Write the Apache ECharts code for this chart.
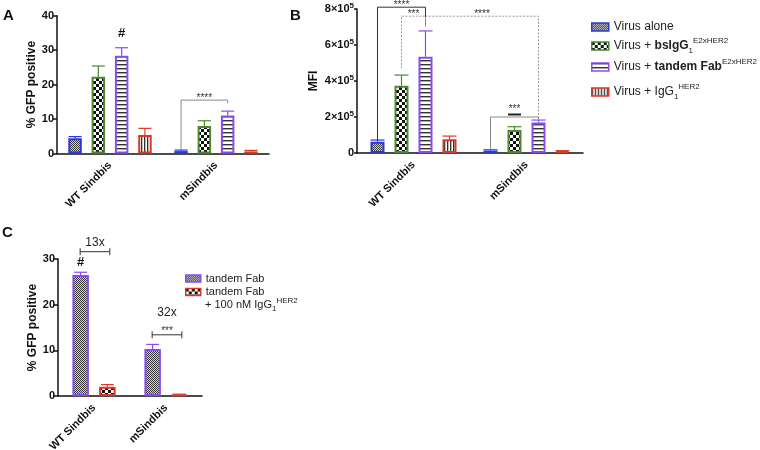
<!DOCTYPE html>
<html>
<head>
<meta charset="utf-8">
<script src="https://cdn.jsdelivr.net/npm/echarts@6/dist/echarts.min.js"></script>
<style>
html, body { margin: 0; padding: 0; background: #fff; }
#chart { width: 760px; height: 450px; }
</style>
</head>
<body>
<div id="chart"></div>
<script>
// categories
var categories = ['WT Sindbis', 'mSindbis'];

// A: % GFP positive (mean, sd)
var gfpAlone = [4.4, 0.7];
var gfpAloneSd = [0.5, 0.3];
var gfpBsIgG = [22.3, 8.0];
var gfpBsIgGSd = [3.1, 1.5];
var gfpTandem = [28.4, 11.0];
var gfpTandemSd = [2.3, 1.3];
var gfpIgG = [5.4, 0.6];
var gfpIgGSd = [1.9, 0.3];

// B: MFI (mean, sd)
var mfiAlone = [63000, 13000];
var mfiAloneSd = [9000, 5000];
var mfiBsIgG = [374000, 128000];
var mfiBsIgGSd = [59000, 18000];
var mfiTandem = [535000, 170000];
var mfiTandemSd = [143000, 13000];
var mfiIgG = [76000, 10000];
var mfiIgGSd = [18000, 3000];

// C: % GFP positive, competition
var cTandem = [26.5, 10.3];
var cTandemSd = [0.6, 1.0];
var cTandemIgG = [2.0, 0.3];
var cTandemIgGSd = [0.5, 0.1];

// axis ranges
var yMaxA = 40, yStepA = 10;
var yMaxB = 800000, yStepB = 200000;
var yMaxC = 30, yStepC = 10;

// brackets: [cat1, bar1, foot1, cat2, bar2, foot2, top]
var bracketsA = [[1, 0, 1.2, 1, 2, 14.6, 15.5]];
var bracketsALabel = ['****'];
var bracketsB = [
	[0, 0, 72000, 0, 2, 700000, 810000],
	[0, 1, 470000, 0, 2, 700000, 760000],
	[0, 2, 700000, 1, 2, 194000, 760000],
	[1, 0, 17000, 1, 2, 185000, 200000]
];
var bracketsBLabel = ['****', '***', '****', '***'];
var bracketsBDashed = [0, 1, 1, 0];

// C fold-change bars: [cat, y], label y
var foldC = [[0, 31.6], [1, 13.4]];
var foldCText = ['13x', '32x'];
var foldCTextY = [33.6, 18.2];
var foldCStars = ['', '***'];

// '#' marks: [cat, bar, y]
var hashA = [[0, 2, 35.0]];
var hashC = [[0, 0, 29.2]];

var namesAB = ['Virus alone', 'Virus + bsIgG1 E2xHER2', 'Virus + tandem Fab E2xHER2', 'Virus + IgG1 HER2'];
var namesC = ['tandem Fab', 'tandem Fab + 100 nM IgG1 HER2'];

var colBlue = '#2b38d8', colGreen = '#4a8a2c', colPurple = '#8a4cf0', colRed = '#d83a28';
var font = 'Liberation Sans, Arial, sans-serif';

// 填充图案
function makePattern(w, h, draw) {
	var c = document.createElement('canvas');
	c.width = w; c.height = h;
	var ctx = c.getContext('2d');
	ctx.fillStyle = '#fff';
	ctx.fillRect(0, 0, w, h);
	draw(ctx);
	return { image: c, repeat: 'repeat' };
}
var patFine = makePattern(2, 2, function (ctx) {
	ctx.fillStyle = '#d0d0d0'; ctx.fillRect(0, 0, 2, 2);
	ctx.fillStyle = '#3a3a3a'; ctx.fillRect(0, 0, 1, 1); ctx.fillRect(1, 1, 1, 1);
});
var patCheck = makePattern(6, 6, function (ctx) {
	ctx.fillStyle = '#111'; ctx.fillRect(0, 0, 3, 3); ctx.fillRect(3, 3, 3, 3);
});
var patH = makePattern(4, 4, function (ctx) {
	ctx.fillStyle = '#333'; ctx.fillRect(0, 0, 4, 1);
	ctx.fillStyle = '#aaa'; ctx.fillRect(0, 1, 4, 1);
});
var patV = makePattern(3, 3, function (ctx) {
	ctx.fillStyle = '#333'; ctx.fillRect(0, 0, 1, 3);
	ctx.fillStyle = '#bbb'; ctx.fillRect(1, 0, 1, 3);
});

var colorsAB = [colBlue, colGreen, colPurple, colRed];
var patsAB = [patFine, patCheck, patH, patV];
var colorsC = [colPurple, colRed];
var patsC = [patFine, patCheck];

var spA = 23.3, spB = 24, spC = 26.7;

function barSeries(name, data, gi, color, pat, bw, gap) {
	return {
		name: name, type: 'bar', xAxisIndex: gi, yAxisIndex: gi,
		data: data, barWidth: bw, barGap: gap, silent: true,
		itemStyle: { color: pat, borderColor: color, borderWidth: 2 },
		z: 2
	};
}

function errSeries(gi, means, sds, colors, spacing, cap) {
	var data = [];
	for (var i = 0; i < means.length; i++) {
		for (var c = 0; c < means[i].length; c++) {
			data.push([c, i, means[i][c], means[i][c] + sds[i][c]]);
		}
	}
	var n = means.length;
	return {
		type: 'custom', xAxisIndex: gi, yAxisIndex: gi, silent: true, z: 3,
		data: data,
		renderItem: function (params, api) {
			var c = api.value(0), i = api.value(1);
			var p0 = api.coord([c, api.value(2)]);
			var p1 = api.coord([c, api.value(3)]);
			var x = p0[0] + (i - (n - 1) / 2) * spacing;
			var st = { stroke: colors[i], lineWidth: 1.2 };
			return {
				type: 'group', children: [
					{ type: 'line', shape: { x1: x, y1: p0[1], x2: x, y2: p1[1] }, style: st },
					{ type: 'line', shape: { x1: x - cap / 2, y1: p1[1], x2: x + cap / 2, y2: p1[1] }, style: st }
				]
			};
		}
	};
}

function bracketSeries(gi, list, labels, dashed, n, spacing, colors) {
	return {
		type: 'custom', xAxisIndex: gi, yAxisIndex: gi, silent: true, z: 4, clip: false,
		data: list,
		renderItem: function (params, api) {
			var k = params.dataIndex;
			var x1 = api.coord([api.value(0), 0])[0] + (api.value(1) - (n - 1) / 2) * spacing;
			var x2 = api.coord([api.value(3), 0])[0] + (api.value(4) - (n - 1) / 2) * spacing;
			var f1 = api.coord([api.value(0), api.value(2)])[1];
			var f2 = api.coord([api.value(3), api.value(5)])[1];
			var yt = api.coord([0, api.value(6)])[1];
			var isDash = dashed && dashed[k];
			var ch = [
				{ type: 'polyline', shape: { points: [[x1, f1], [x1, yt], [x2, yt], [x2, f2]] },
				  style: { stroke: colors[k], lineWidth: 1, fill: null, lineDash: isDash ? [2, 1.5] : null } },
				{ type: 'text', style: { text: labels[k], x: (x1 + x2) / 2, y: yt - (k === 3 && gi === 1 ? 8 : 2),
				  align: 'center', verticalAlign: 'middle', fontSize: 10, fontFamily: font, fill: '#333' } }
			];
			if (gi === 1 && k === 3) {
				var m = (x1 + x2) / 2;
				ch.push({ type: 'line', shape: { x1: m - 6.5, y1: yt - 2.5, x2: m + 6.5, y2: yt - 2.5 },
					style: { stroke: '#222', lineWidth: 2 } });
			}
			return { type: 'group', children: ch };
		}
	};
}

function hashSeries(gi, list, n, spacing) {
	return {
		type: 'custom', xAxisIndex: gi, yAxisIndex: gi, silent: true, z: 4, clip: false,
		data: list,
		renderItem: function (params, api) {
			var p = api.coord([api.value(0), api.value(2)]);
			return { type: 'text', style: { text: '#', x: p[0] + (api.value(1) - (n - 1) / 2) * spacing, y: p[1],
				align: 'center', verticalAlign: 'middle', fontSize: 13, fontWeight: 'bold', fontFamily: font, fill: '#111' } };
		}
	};
}

function foldSeries() {
	return {
		type: 'custom', xAxisIndex: 2, yAxisIndex: 2, silent: true, z: 4, clip: false,
		data: foldC,
		renderItem: function (params, api) {
			var k = params.dataIndex;
			var p = api.coord([api.value(0), api.value(1)]);
			var xa = p[0] - spC / 2 - 0.5, xb = p[0] + spC / 2 + 2.5;
			var ty = api.coord([0, foldCTextY[k]])[1];
			var st = { stroke: '#333', lineWidth: 1 };
			var ch = [
				{ type: 'line', shape: { x1: xa, y1: p[1], x2: xb, y2: p[1] }, style: st },
				{ type: 'line', shape: { x1: xa, y1: p[1] - 3.5, x2: xa, y2: p[1] + 3.5 }, style: st },
				{ type: 'line', shape: { x1: xb, y1: p[1] - 3.5, x2: xb, y2: p[1] + 3.5 }, style: st },
				{ type: 'text', style: { text: foldCText[k], x: (xa + xb) / 2, y: ty, align: 'center', verticalAlign: 'middle',
				  fontSize: 12, fontFamily: font, fill: '#222' } }
			];
			if (foldCStars[k]) {
				ch.push({ type: 'text', style: { text: foldCStars[k], x: (xa + xb) / 2, y: p[1] - 4, align: 'center',
					verticalAlign: 'middle', fontSize: 10, fontFamily: font, fill: '#333' } });
			}
			return { type: 'group', children: ch };
		}
	};
}

function xAxisCfg(gi) {
	return {
		type: 'category', gridIndex: gi, data: categories,
		axisLine: { lineStyle: { color: '#111', width: 1.5 } },
		axisTick: { alignWithLabel: true, length: 5, lineStyle: { color: '#111', width: 1.5 } },
		axisLabel: { rotate: 45, margin: 10, fontSize: 11, fontWeight: 'bold', color: '#111', fontFamily: font }
	};
}
function yAxisCfg(gi, max, step, name, gap, tick, fmt) {
	var cfg = {
		type: 'value', gridIndex: gi, min: 0, max: max, interval: step,
		name: name, nameLocation: 'middle', nameGap: gap,
		nameTextStyle: { fontSize: 12, fontWeight: 'bold', color: '#111', fontFamily: font },
		axisLine: { show: true, lineStyle: { color: '#111', width: 1.5 } },
		axisTick: { show: true, length: tick, lineStyle: { color: '#111', width: 1.5 } },
		splitLine: { show: false },
		axisLabel: { margin: 3, fontSize: 11, fontWeight: 'bold', color: '#111', fontFamily: font }
	};
	if (fmt) {
		cfg.axisLabel.formatter = fmt;
		cfg.axisLabel.rich = {
			n: { fontSize: 11, fontWeight: 'bold', color: '#111', lineHeight: 14, fontFamily: font },
			s: { fontSize: 8, fontWeight: 'bold', color: '#111', lineHeight: 8, verticalAlign: 'top', fontFamily: font }
		};
	}
	return cfg;
}

var legendLabels = {
	'Virus alone': 'Virus alone',
	'Virus + bsIgG1 E2xHER2': 'Virus + {b|bsIgG}{sub|1}{sup|E2xHER2}',
	'Virus + tandem Fab E2xHER2': 'Virus + {b|tandem Fab}{sup|E2xHER2}',
	'Virus + IgG1 HER2': 'Virus + IgG{sub|1}{sup|HER2}',
	'tandem Fab': 'tandem Fab',
	'tandem Fab + 100 nM IgG1 HER2': 'tandem Fab'
};
function richStyles(size) {
	return {
		b: { fontSize: size, fontWeight: 'bold', color: '#222', lineHeight: 18, fontFamily: font },
		sub: { fontSize: 8, color: '#222', lineHeight: 8, verticalAlign: 'bottom', fontFamily: font },
		sup: { fontSize: 8, color: '#222', lineHeight: 8, verticalAlign: 'top', fontFamily: font }
	};
}
function legendCfg(name, left, top, color, pat, w, h, size) {
	return {
		left: left, top: top, orient: 'vertical', padding: 0, selectedMode: false,
		itemWidth: w, itemHeight: h, icon: 'rect',
		data: [{ name: name, itemStyle: { color: pat, borderColor: color, borderWidth: 1.5 } }],
		formatter: function (nm) { return legendLabels[nm]; },
		textStyle: { fontSize: size, color: '#222', lineHeight: 18, fontFamily: font, rich: richStyles(size) }
	};
}

var myChart = echarts.init(document.getElementById('chart'));

var series = [];
var meansA = [gfpAlone, gfpBsIgG, gfpTandem, gfpIgG];
var sdsA = [gfpAloneSd, gfpBsIgGSd, gfpTandemSd, gfpIgGSd];
var meansB = [mfiAlone, mfiBsIgG, mfiTandem, mfiIgG];
var sdsB = [mfiAloneSd, mfiBsIgGSd, mfiTandemSd, mfiIgGSd];
for (var i = 0; i < 4; i++) {
	series.push(barSeries(namesAB[i], meansA[i], 0, colorsAB[i], patsAB[i], 13.5, (spA / 13.5 - 1) * 100 + '%'));
	series.push(barSeries(namesAB[i], meansB[i], 1, colorsAB[i], patsAB[i], 14, (spB / 14 - 1) * 100 + '%'));
}
series.push(barSeries(namesC[0], cTandem, 2, colorsC[0], patsC[0], 16.5, (spC / 16.5 - 1) * 100 + '%'));
series.push(barSeries(namesC[1], cTandemIgG, 2, colorsC[1], patsC[1], 16.5, (spC / 16.5 - 1) * 100 + '%'));

series.push(errSeries(0, meansA, sdsA, colorsAB, spA, 13));
series.push(errSeries(1, meansB, sdsB, colorsAB, spB, 14));
series.push(errSeries(2, [cTandem, cTandemIgG], [cTandemSd, cTandemIgGSd], colorsC, spC, 13));

series.push(bracketSeries(0, bracketsA, bracketsALabel, null, 4, spA, ['#888']));
series.push(bracketSeries(1, bracketsB, bracketsBLabel, bracketsBDashed, 4, spB, ['#333', '#999', '#999', '#888']));
series.push(hashSeries(0, hashA, 4, spA));
series.push(hashSeries(2, hashC, 2, spC));
series.push(foldSeries());

var option = {
	animation: false,
	backgroundColor: '#fff',
	textStyle: { fontFamily: font },
	grid: [
		{ left: 57, top: 15.7, width: 212, height: 137.8, outerBoundsMode: 'none' },
		{ left: 357, top: 9, width: 226, height: 144, outerBoundsMode: 'none' },
		{ left: 58, top: 259, width: 144, height: 137, outerBoundsMode: 'none' }
	],
	xAxis: [xAxisCfg(0), xAxisCfg(1), xAxisCfg(2)],
	yAxis: [
		yAxisCfg(0, yMaxA, yStepA, '% GFP positive', 18, 4),
		yAxisCfg(1, yMaxB, yStepB, 'MFI', 37, 3, function (v) {
			return v === 0 ? '{n|0}' : '{n|' + (v / 100000) + '×10}{s|5}';
		}),
		yAxisCfg(2, yMaxC, yStepC, '% GFP positive', 19, 5)
	],
	legend: [
		legendCfg(namesAB[0], 591, 18, colBlue, patFine, 17, 8, 12),
		legendCfg(namesAB[1], 591, 37, colGreen, patCheck, 17, 8, 12),
		legendCfg(namesAB[2], 591, 58, colPurple, patH, 17, 8, 12),
		legendCfg(namesAB[3], 591, 83, colRed, patV, 17, 8, 12),
		legendCfg(namesC[0], 185, 269.5, colPurple, patFine, 15, 7, 11),
		legendCfg(namesC[1], 185, 283, colRed, patCheck, 15, 7, 11)
	],
	graphic: [
		{ type: 'text', left: 3, top: 8, style: { text: 'A', fontSize: 15, fontWeight: 'bold', fill: '#111', fontFamily: font } },
		{ type: 'text', left: 290, top: 8, style: { text: 'B', fontSize: 15, fontWeight: 'bold', fill: '#111', fontFamily: font } },
		{ type: 'text', left: 2, top: 225, style: { text: 'C', fontSize: 15, fontWeight: 'bold', fill: '#111', fontFamily: font } },
		{ type: 'text', left: 205, top: 297, style: { text: '+ 100 nM IgG{sub|1}{sup|HER2}', fontSize: 11, fill: '#222',
			lineHeight: 16, fontFamily: font, rich: richStyles(11) } }
	],
	series: series
};

myChart.setOption(option);
</script>
</body>
</html>
